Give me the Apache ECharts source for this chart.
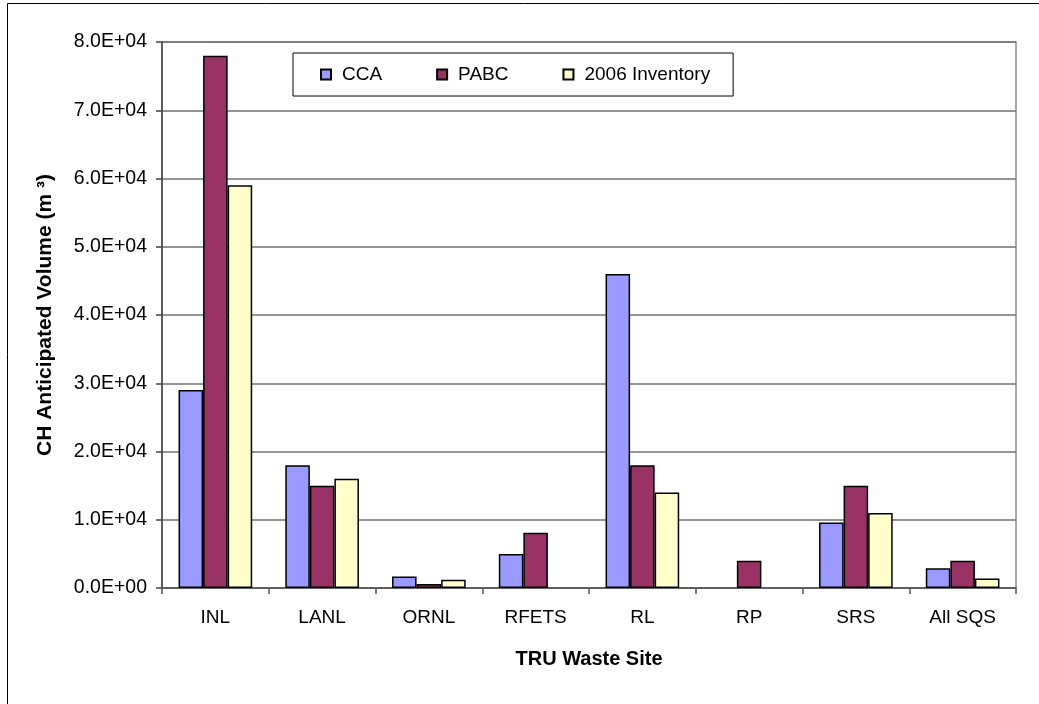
<!DOCTYPE html>
<html>
<head>
<meta charset="utf-8">
<script src="https://cdn.jsdelivr.net/npm/echarts@6/dist/echarts.min.js"></script>
<style>
html,body{margin:0;padding:0;background:#fff;}
#chart{width:1039px;height:704px;}
</style>
</head>
<body>
<div id="chart"></div>
<script>
var categories = ['INL', 'LANL', 'ORNL', 'RFETS', 'RL', 'RP', 'SRS', 'All SQS'];
var ccaValues = [29000, 18000, 1700, 5000, 46000, null, 9600, 2900];
var pabcValues = [78000, 15000, 600, 8100, 18000, 4000, 15000, 4000];
var inv2006Values = [59000, 16000, 1200, null, 14000, null, 11000, 1400];
var yTickLabels = ['0.0E+00', '1.0E+04', '2.0E+04', '3.0E+04', '4.0E+04', '5.0E+04', '6.0E+04', '7.0E+04', '8.0E+04'];
var seriesNames = ['CCA', 'PABC', '2006 Inventory'];

var FONT = 'Liberation Sans, Arial, sans-serif';
var chart = echarts.init(document.getElementById('chart'));

function barSeries(name, data, color) {
  return {
    name: name,
    type: 'bar',
    data: data,
    barGap: '0%',
    barCategoryGap: '31%',
    itemStyle: { color: color, borderColor: '#000', borderWidth: 1.5 },
    emphasis: { disabled: true }
  };
}

chart.setOption({
  animation: false,
  backgroundColor: '#fff',
  textStyle: { fontFamily: FONT },
  grid: {
    left: 162, right: 23, top: 42, bottom: 116,
    show: true, borderColor: '#8c8c8c', borderWidth: 1.5
  },
  legend: {
    left: 293, top: 53,
    padding: [12, 23, 12, 27],
    itemWidth: 10, itemHeight: 10,
    itemGap: 54,
    icon: 'rect',
    borderColor: '#000', borderWidth: 1,
    backgroundColor: '#fff',
    textStyle: { fontSize: 19, color: '#000', fontFamily: FONT, padding: [0, 0, 0, 6] },
    data: seriesNames
  },
  xAxis: {
    type: 'category',
    data: categories,
    boundaryGap: true,
    axisLine: { lineStyle: { color: '#555', width: 1.5 } },
    axisTick: { show: true, inside: false, length: 6, lineStyle: { color: '#555', width: 1.5 } },
    axisLabel: { fontSize: 19, color: '#000', margin: 20, fontFamily: FONT },
    name: 'TRU Waste Site',
    nameLocation: 'middle',
    nameGap: 61,
    nameTextStyle: { fontSize: 20, fontWeight: 'bold', color: '#000', fontFamily: FONT }
  },
  yAxis: {
    type: 'value',
    min: 0, max: 80000, interval: 10000,
    axisLine: { show: true, lineStyle: { color: '#444', width: 1.5 } },
    axisTick: { show: true, inside: false, length: 6, lineStyle: { color: '#444', width: 1.5 } },
    splitLine: { show: true, lineStyle: { color: '#707070', width: 1.5 } },
    axisLabel: {
      fontSize: 19.5, color: '#000', margin: 15, fontFamily: FONT,
      formatter: function (v) { return yTickLabels[Math.round(v / 10000)]; }
    },
    name: 'CH Anticipated Volume (m ³)',
    nameLocation: 'middle',
    nameGap: 106,
    nameTextStyle: { fontSize: 21, fontWeight: 'bold', color: '#000', fontFamily: FONT }
  },
  graphic: [{
    type: 'rect',
    shape: { x: 7.5, y: 3.5, width: 1100, height: 800 },
    style: { fill: 'none', stroke: '#000', lineWidth: 1 },
    silent: true, z: 100
  }],
  series: [
    barSeries(seriesNames[0], ccaValues, '#9999FF'),
    barSeries(seriesNames[1], pabcValues, '#993366'),
    barSeries(seriesNames[2], inv2006Values, '#FFFFCC')
  ]
});
</script>
</body>
</html>
